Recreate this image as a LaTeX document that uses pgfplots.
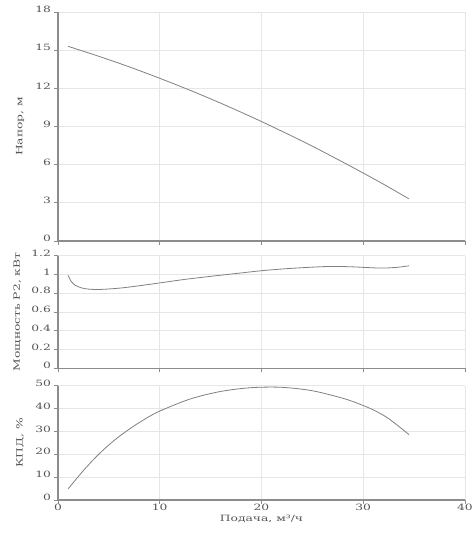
\documentclass[border=0pt]{standalone}
\usepackage{fontspec}
\setmainfont{DejaVu Serif}[FakeStretch=1.42]
\usepackage{pgfplots}
\pgfplotsset{compat=1.18}
\definecolor{gridc}{HTML}{E6E6E6}
\definecolor{spinec}{HTML}{8C8C8C}
\definecolor{linec}{HTML}{808080}
\definecolor{textc}{HTML}{555555}
\pgfplotsset{
  pump/.style={
    scale only axis, width=407bp,
    xmin=0, xmax=40, xtick={0,10,20,30,40},
    axis x line*=bottom, axis y line*=left,
    x axis line style={-, spinec, line width=1.1bp},
    y axis line style={-, spinec, line width=1.1bp},
    tick align=outside, tick pos=left,
    major tick length=4bp,
    tick style={spinec, line width=0.8bp},
    grid=major, major grid style={gridc, line width=0.9bp},
    font=\fontsize{8.7}{10}\selectfont,
    tick label style={textc},
    label style={textc},
    /pgf/number format/assume math mode=true,
    yticklabel style={anchor=east, yshift=2.5bp, xshift=0.5bp},
    every axis y label/.style={rotate=90, anchor=center, textc},
    clip=false,
  },
  curve/.style={linec, line width=0.8bp, smooth, no markers},
}
\pgfplotstableread{
x y
1 15.30
4 14.52
7 13.69
10 12.79
13 11.84
16 10.83
19 9.76
22 8.63
25 7.45
28 6.20
30 5.34
32 4.46
34.5 3.31
}\headdata
\pgfplotstableread{
x y
1 0.99
1.3 0.925
1.65 0.888
2.3 0.857
3 0.844
3.7 0.840
4.5 0.842
6.2 0.856
8 0.880
10 0.910
12.5 0.948
15.4 0.985
17.9 1.015
20 1.040
22.5 1.062
25 1.078
27 1.086
29 1.081
30.5 1.073
32 1.068
33.5 1.078
34.5 1.093
}\powerdata
\pgfplotstableread{
x y
1 4.9
2.5 12.9
4 20.0
5.5 26.0
7 31.0
8.5 35.3
10 38.9
13 44.2
16 47.5
19 49.15
22 49.3
25 47.8
28 44.5
29.5 42.2
31 39.4
32.5 35.6
34.5 28.6
}\effdata
\begin{document}
\begin{tikzpicture}
\path[use as bounding box] (0,0) rectangle (473bp,-540bp);
\begin{axis}[pump, at={(58bp,-241bp)}, anchor=south west, height=229bp,
  ymin=0, ymax=18, ytick={0,3,...,18}, xticklabels={},
  ylabel={Напор, м},
  every axis y label/.append style={at={(axis description cs:-0.093,0.5)}}]
\addplot[curve] table[x=x,y=y] {\headdata};
\end{axis}
\begin{axis}[pump, at={(58bp,-368.3bp)}, anchor=south west, height=112.6bp,
  ymin=0, ymax=1.2, ytick={0,0.2,...,1.2},
  yticklabels={0,0.2,0.4,0.6,0.8,1,1.2}, xticklabels={},
  ylabel={Мощность P2, кВт},
  every axis y label/.append style={at={(axis description cs:-0.10,0.5)}}]
\addplot[curve] table[x=x,y=y] {\powerdata};
\end{axis}
\begin{axis}[pump, at={(58bp,-500bp)}, anchor=south west, height=114.3bp,
  ymin=0, ymax=50, ytick={0,10,...,50},
  xticklabel style={anchor=center, yshift=-3.5bp},
  ylabel={КПД, \%}, xlabel={Подача, м³/ч},
  every axis y label/.append style={at={(axis description cs:-0.093,0.5)}},
  every axis x label/.style={at={(axis description cs:0.5,0)}, anchor=center, yshift=-19bp, textc}]
\addplot[curve] table[x=x,y=y] {\effdata};
\end{axis}
\end{tikzpicture}
\end{document}
